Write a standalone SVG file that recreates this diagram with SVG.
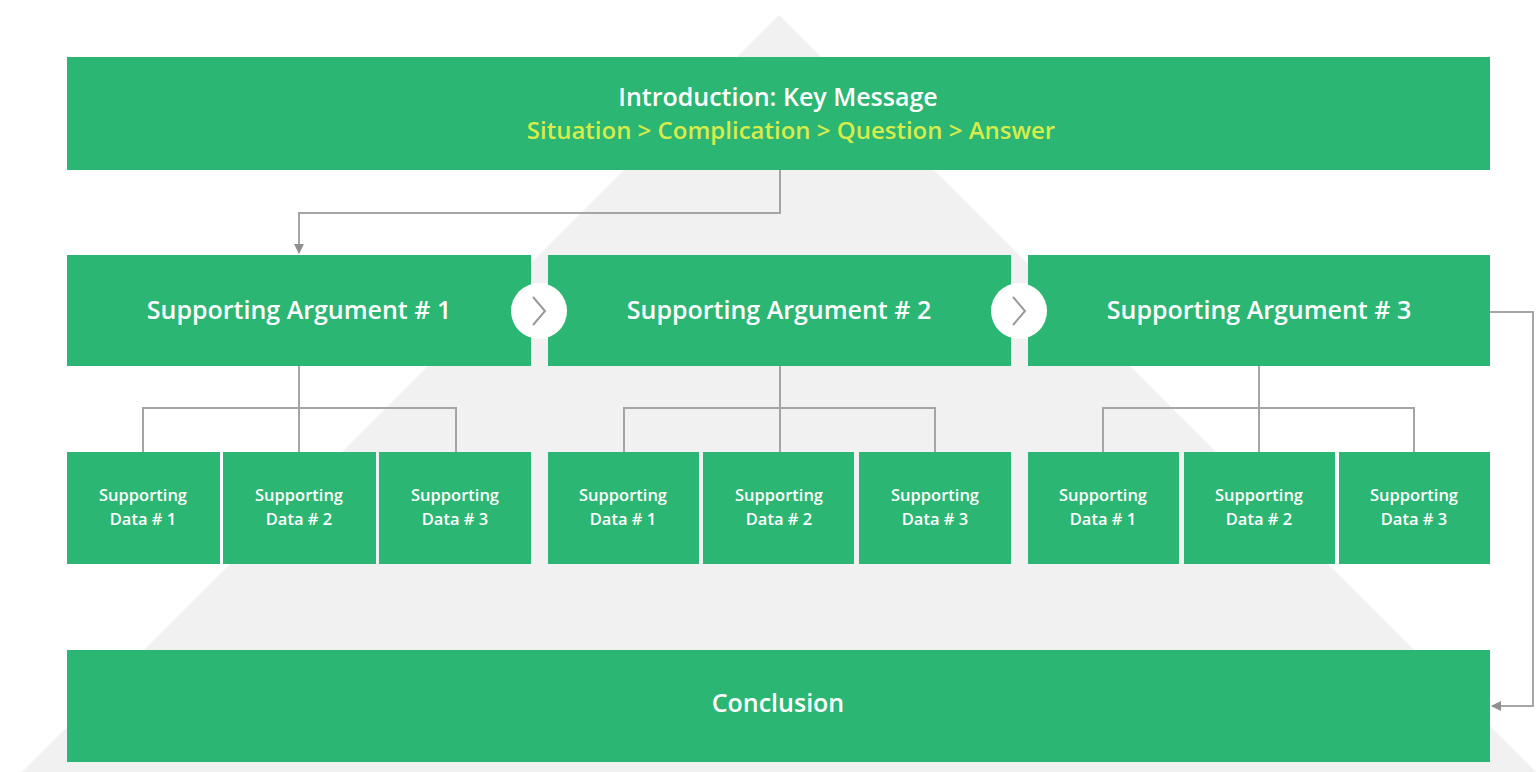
<svg xmlns="http://www.w3.org/2000/svg" width="1537" height="772" viewBox="0 0 1537 772">
<defs>
<style>
.box{fill:#2bb673}
.t{font-family:"Open Sans","Liberation Sans",sans-serif;font-weight:600;fill:#ffffff;text-anchor:middle}
.big{font-size:25px}
.sub{font-size:24px;fill:#d6ec4a}
.sm{font-size:16.5px}
.ln{fill:none;stroke:#a5a5a5;stroke-width:2}
</style>
<marker id="ah" viewBox="0 0 10 10" refX="9" refY="5" markerWidth="5" markerHeight="5" orient="auto">
<path d="M0,0 L10,5 L0,10 z" fill="#8f8f8f"/>
</marker>
</defs>
<rect x="0" y="0" width="1537" height="772" fill="#ffffff"/>
<polygon points="779,15 22,772 1536,772" fill="#f1f1f2"/>

<g id="connectors">
<path class="ln" d="M780,170 V213 H299 V253" marker-end="url(#ah)"/>
<path class="ln" d="M1490,312 H1533 V706 H1492" marker-end="url(#ah)"/>
<path class="ln" d="M299,366 V452 M143,452 V408 H456 V452"/>
<path class="ln" d="M780,366 V452 M624,452 V408 H935 V452"/>
<path class="ln" d="M1259,366 V452 M1103,452 V408 H1414 V452"/>
</g>

<g id="intro">
<rect class="box" x="67" y="57" width="1423" height="113"/>
<text class="t big" x="778" y="106">Introduction: Key Message</text>
<text class="t sub" x="791" y="139">Situation &gt; Complication &gt; Question &gt; Answer</text>
</g>

<g id="arg1">
<rect class="box" x="67" y="255" width="464" height="111"/>
<text class="t big" x="299" y="319">Supporting Argument # 1</text>
</g>
<g id="arg2">
<rect class="box" x="548" y="255" width="463" height="111"/>
<text class="t big" x="779" y="319">Supporting Argument # 2</text>
</g>
<g id="arg3">
<rect class="box" x="1028" y="255" width="462" height="111"/>
<text class="t big" x="1259" y="319">Supporting Argument # 3</text>
</g>

<g id="chev1">
<circle cx="539" cy="311" r="28" fill="#ffffff"/>
<path d="M533,297 L545,311 L533,325" fill="none" stroke="#9a9a9a" stroke-width="2"/>
</g>
<g id="chev2">
<circle cx="1019" cy="311" r="28" fill="#ffffff"/>
<path d="M1013,297 L1025,311 L1013,325" fill="none" stroke="#9a9a9a" stroke-width="2"/>
</g>

<g id="d11"><rect class="box" x="67" y="452" width="153" height="112"/><text class="t sm" x="143" y="501">Supporting</text><text class="t sm" x="143" y="525">Data # 1</text></g>
<g id="d12"><rect class="box" x="223" y="452" width="153" height="112"/><text class="t sm" x="299" y="501">Supporting</text><text class="t sm" x="299" y="525">Data # 2</text></g>
<g id="d13"><rect class="box" x="379" y="452" width="152" height="112"/><text class="t sm" x="455" y="501">Supporting</text><text class="t sm" x="455" y="525">Data # 3</text></g>

<g id="d21"><rect class="box" x="548" y="452" width="151" height="112"/><text class="t sm" x="623" y="501">Supporting</text><text class="t sm" x="623" y="525">Data # 1</text></g>
<g id="d22"><rect class="box" x="703" y="452" width="151" height="112"/><text class="t sm" x="779" y="501">Supporting</text><text class="t sm" x="779" y="525">Data # 2</text></g>
<g id="d23"><rect class="box" x="859" y="452" width="152" height="112"/><text class="t sm" x="935" y="501">Supporting</text><text class="t sm" x="935" y="525">Data # 3</text></g>

<g id="d31"><rect class="box" x="1028" y="452" width="151" height="112"/><text class="t sm" x="1103" y="501">Supporting</text><text class="t sm" x="1103" y="525">Data # 1</text></g>
<g id="d32"><rect class="box" x="1184" y="452" width="151" height="112"/><text class="t sm" x="1259" y="501">Supporting</text><text class="t sm" x="1259" y="525">Data # 2</text></g>
<g id="d33"><rect class="box" x="1339" y="452" width="151" height="112"/><text class="t sm" x="1414" y="501">Supporting</text><text class="t sm" x="1414" y="525">Data # 3</text></g>

<g id="conclusion">
<rect class="box" x="67" y="650" width="1423" height="112"/>
<text class="t big" x="778" y="712">Conclusion</text>
</g>
</svg>
